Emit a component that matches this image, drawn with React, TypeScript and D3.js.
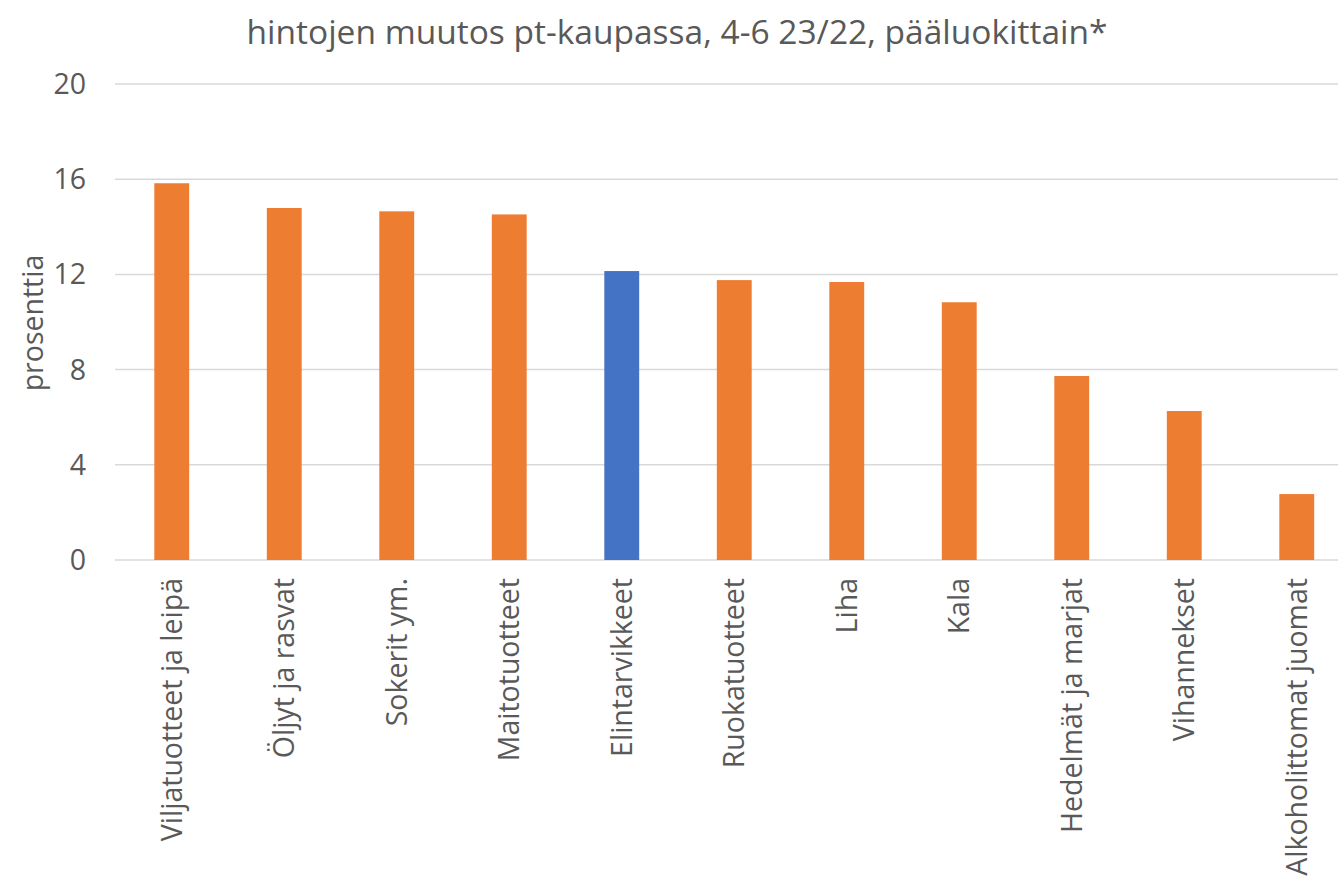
import React from 'react';
import * as d3 from 'd3';

const categories = [
  'Viljatuotteet ja leipä',
  'Öljyt ja rasvat',
  'Sokerit ym.',
  'Maitotuotteet',
  'Elintarvikkeet',
  'Ruokatuotteet',
  'Liha',
  'Kala',
  'Hedelmät ja marjat',
  'Vihannekset',
  'Alkoholittomat juomat',
];
const values = [15.83, 14.79, 14.65, 14.52, 12.14, 11.76, 11.68, 10.83, 7.73, 6.26, 2.77];
const highlight = 'Elintarvikkeet';
const yTicks = [0, 4, 8, 12, 16, 20];

const W = 1338;
const H = 877;
const font = '"Open Sans", sans-serif';
const textColor = '#595959';

const App = () => {
  const x = d3.scaleBand<string>()
    .domain(categories)
    .range([115.5, 1353])
    .paddingInner(0.69)
    .paddingOuter(0.345);
  const y = d3.scaleLinear().domain([0, 20]).range([560, 84]);

  return (
    <svg width={W} height={H} style={{ position: 'absolute', left: 0, top: 0, background: '#fff' }}>
      <text x={677} y={44} textAnchor="middle" fontSize={33.5} fill={textColor} fontFamily={font}>
        hintojen muutos pt-kaupassa, 4-6 23/22, pääluokittain*
      </text>
      {yTicks.map(t => (
        <g key={t}>
          <line x1={115} x2={W} y1={y(t)} y2={y(t)} stroke="#D9D9D9" strokeWidth={1.5} />
          <text x={86} y={y(t)} dy="0.35em" textAnchor="end" fontSize={28.5} fill={textColor} fontFamily={font}>
            {t}
          </text>
        </g>
      ))}
      <text
        transform={`translate(43,${323}) rotate(-90)`}
        textAnchor="middle"
        fontSize={28.5}
        fill={textColor}
        fontFamily={font}
      >
        prosenttia
      </text>
      {categories.map((c, i) => (
        <rect
          key={c}
          x={x(c)}
          y={y(values[i])}
          width={x.bandwidth()}
          height={y(0) - y(values[i])}
          fill={c === highlight ? '#4472C4' : '#ED7D31'}
        />
      ))}
      {categories.map(c => (
        <text
          key={c}
          transform={`translate(${(x(c) ?? 0) + x.bandwidth() / 2},578) rotate(-90)`}
          textAnchor="end"
          dy="0.35em"
          fontSize={28.5}
          fill={textColor}
          fontFamily={font}
        >
          {c}
        </text>
      ))}
    </svg>
  );
};

export default App;
